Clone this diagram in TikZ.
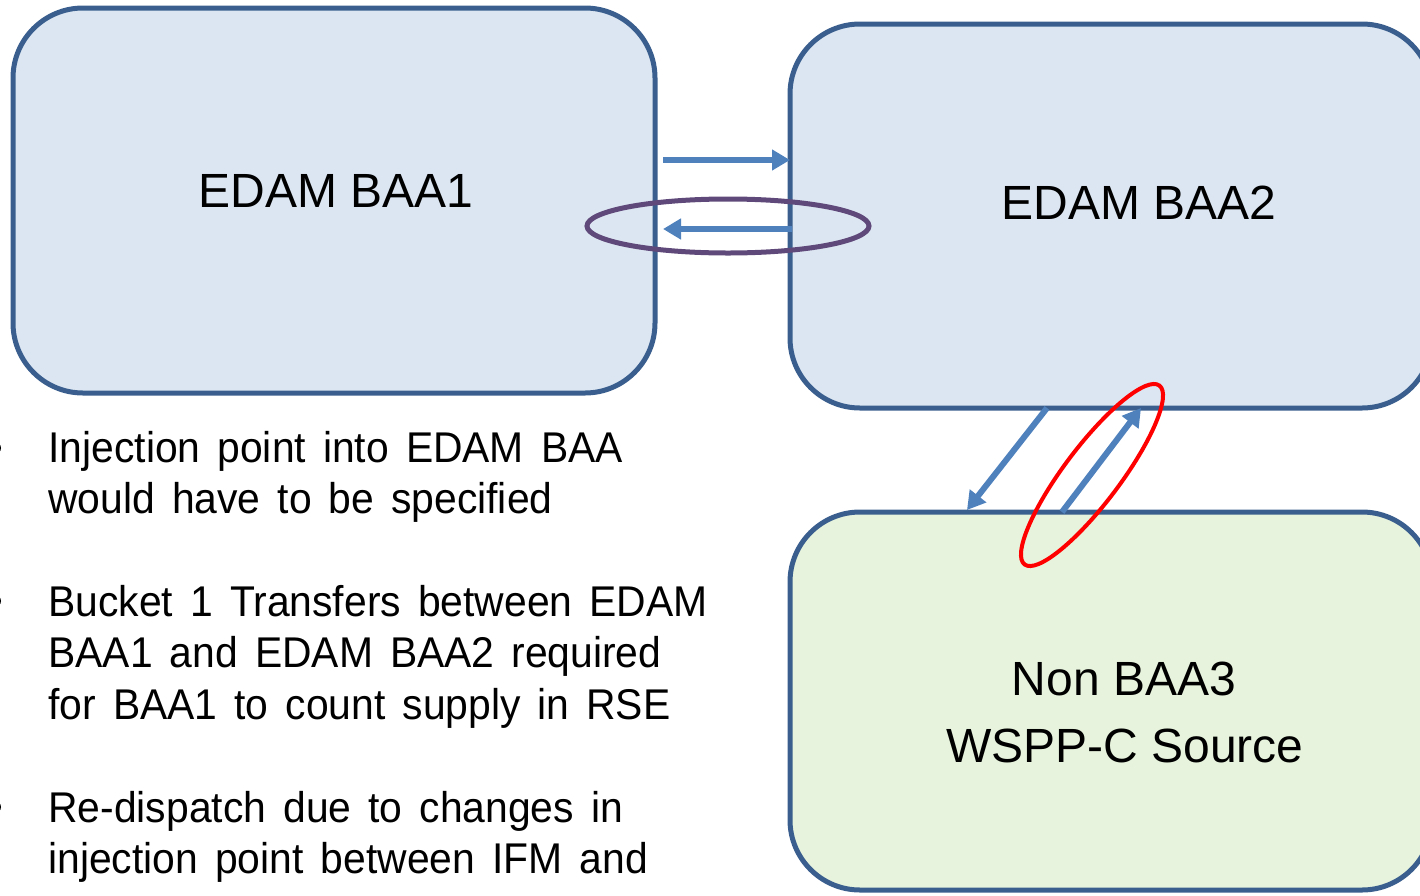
\documentclass[tikz,border=0pt]{standalone}
\usepackage{fontspec}
\setmainfont{Liberation Sans}
\newfontfamily\bodyfont[WordSpace=1.5,FakeStretch=0.95]{Liberation Sans}
\usetikzlibrary{arrows.meta,shapes.geometric}
\definecolor{boxline}{HTML}{3A5F8E}
\definecolor{bluefill}{HTML}{DCE6F2}
\definecolor{greenfill}{HTML}{E7F3DC}
\definecolor{arrowblue}{HTML}{4F81BD}
\definecolor{purpring}{HTML}{5F497A}
\tikzset{
  areabox/.style={draw=boxline, line width=2.5pt, rounded corners=35pt, inner sep=0pt},
  flow/.style={draw=arrowblue, line width=3pt, -{Triangle[length=9pt,width=10pt]}},
  title/.style={font=\fontsize{24pt}{28pt}\selectfont, anchor=base, inner sep=0pt},
  body/.style={font=\bodyfont\fontsize{21.5pt}{25.75pt}\selectfont, anchor=base west, inner sep=0pt},
}
\begin{document}
\begin{tikzpicture}[x=0.5pt,y=-0.5pt]
\path[use as bounding box] (0,0) rectangle (1420,895);
\clip (0,0) rectangle (1420,895);
% boxes
\node[areabox, fill=bluefill, minimum width=321pt, minimum height=192.5pt] (b1) at (334,200.5) {};
\node[areabox, fill=bluefill, minimum width=321pt, minimum height=192pt] (b2) at (1111,216) {};
\node[areabox, fill=greenfill, minimum width=321pt, minimum height=189pt] (b3) at (1111,701) {};
% labels
\node[title] (t1) at (336,207) {EDAM BAA1};
\node[title] (t2) at (1139,219) {EDAM BAA2};
\node[title] (t3a) at (1124,695) {Non BAA3};
\node[title] (t3b) at (1125,762) {WSPP-C Source};
% rings
\node[draw=purpring, line width=2.5pt, ellipse, minimum width=141pt, minimum height=27pt, inner sep=0pt] (ring1) at (728,226) {};
\node[draw=red, line width=2pt, ellipse, minimum width=112pt, minimum height=28pt, inner sep=0pt, rotate=53] (ring2) at (1092,475) {};
% connector end points
\coordinate (p1s) at (663,160);
\coordinate (p1e) at (790,160);
\coordinate (p2s) at (792,229);
\coordinate (p2e) at (663,229);
\coordinate (p3s) at (1047,408);
\coordinate (p3e) at (967,510);
\coordinate (p4s) at (1062,512);
\coordinate (p4e) at (1141,408);
\draw[flow] (p1s) -- (p1e);
\draw[flow] (p2s) -- (p2e);
\draw[flow] (p3s) -- (p3e);
\draw[flow] (p4s) -- (p4e);
% bullets (cut at the left edge)
\fill (-5,448) circle[radius=6];
\fill (-5,601) circle[radius=6];
\fill (-5,807) circle[radius=6];
% text
\node[body] (l1) at (48,462) {Injection point into EDAM BAA};
\node[body] (l2) at (48,513) {would have to be specified};
\node[body] (l3) at (48,616) {Bucket 1 Transfers between EDAM};
\node[body] (l4) at (48,667) {BAA1 and EDAM BAA2 required};
\node[body] (l5) at (48,719) {for BAA1 to count supply in RSE};
\node[body] (l6) at (48,822) {Re-dispatch due to changes in};
\node[body] (l7) at (48,873) {injection point between IFM and};
\end{tikzpicture}
\end{document}
